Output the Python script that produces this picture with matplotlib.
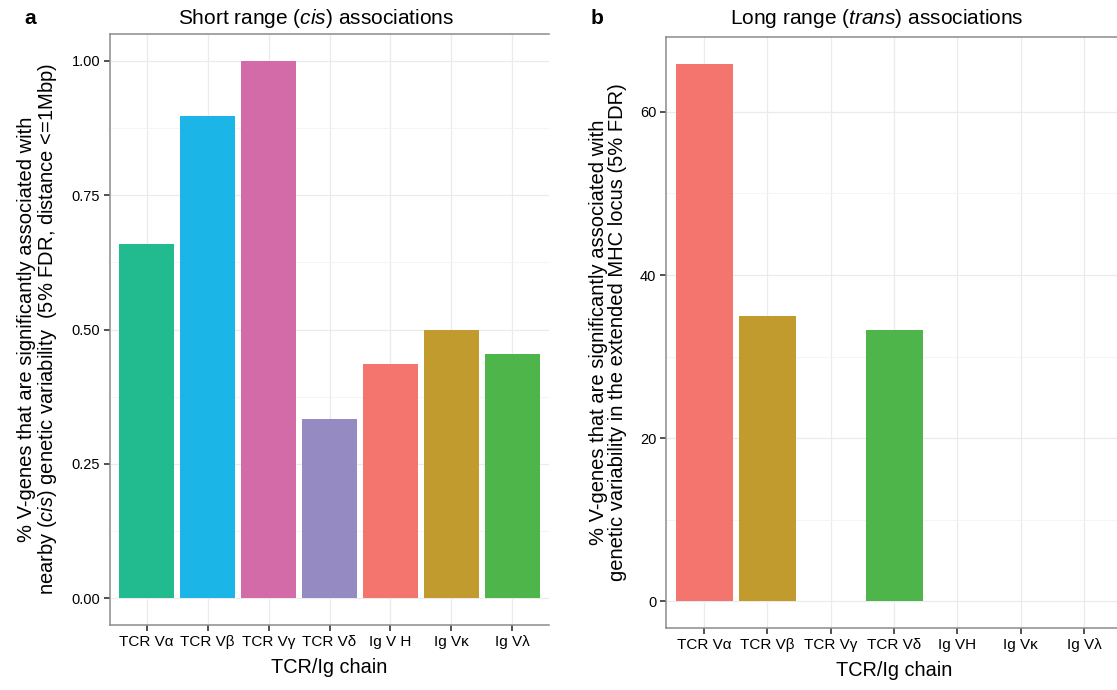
import numpy as np
import matplotlib
matplotlib.use('Agg')
import matplotlib.pyplot as plt
from matplotlib import rcParams

rcParams['font.family'] = ['Liberation Sans', 'DejaVu Sans']
rcParams['mathtext.fontset'] = 'custom'
rcParams['mathtext.rm'] = 'Liberation Sans'
rcParams['mathtext.it'] = 'Liberation Sans:italic'

# 数据
chains_a = ['TCR V\u03b1', 'TCR V\u03b2', 'TCR V\u03b3', 'TCR V\u03b4', 'Ig V H', 'Ig V\u03ba', 'Ig V\u03bb']
cis_values = [0.659, 0.897, 1.00, 0.333, 0.436, 0.50, 0.455]
cis_colors = ['#22BB8F', '#1CB5E8', '#D46BA9', '#968AC2', '#F3756D', '#C29B2E', '#4DB549']

chains_b = ['TCR V\u03b1', 'TCR V\u03b2', 'TCR V\u03b3', 'TCR V\u03b4', 'Ig VH', 'Ig V\u03ba', 'Ig V\u03bb']
trans_values = [65.9, 35.0, 0.0, 33.3, 0.0, 0.0, 0.0]
trans_colors = ['#F3756D', '#C29B2E', '#22BB8F', '#4DB549', '#1CB5E8', '#968AC2', '#D46BA9']

W, H = 1117, 690
fig = plt.figure(figsize=(W / 100, H / 100), dpi=100)


def px_axes(x0, y0, x1, y1):
    return fig.add_axes([x0 / W, 1 - y1 / H, (x1 - x0) / W, (y1 - y0) / H])


def style_axes(ax, labels, ymax, yticks, yticklabels, minor):
    ax.set_xlim(-0.6, len(labels) - 0.4)
    ax.set_ylim(-0.05 * ymax, 1.05 * ymax)
    ax.set_xticks(np.arange(len(labels)))
    ax.set_xticklabels(labels, fontsize=11)
    ax.set_yticks(yticks)
    ax.set_yticklabels(yticklabels, fontsize=10.5)
    ax.set_yticks(minor, minor=True)
    ax.tick_params(axis='y', which='minor', length=0)
    ax.tick_params(which='major', length=4, width=1.1, color='#222222', pad=3)
    ax.grid(True, which='major', color='#EBEBEB', linewidth=0.9)
    ax.grid(True, which='minor', axis='y', color='#F4F4F4', linewidth=0.7)
    ax.set_axisbelow(True)
    for s in ax.spines.values():
        s.set_color('#8C8C8C')
        s.set_linewidth(1.1)
    ax.set_xlabel('TCR/Ig chain', fontsize=14.3, labelpad=7)


# ==================== 图 a ====================
ax1 = px_axes(110, 34, 549, 625)
ax1.bar(np.arange(len(chains_a)), cis_values, width=0.9, color=cis_colors, zorder=2)
style_axes(ax1, chains_a, 1.0, [0, 0.25, 0.5, 0.75, 1.0],
           ['0.00', '0.25', '0.50', '0.75', '1.00'], [0.125, 0.375, 0.625, 0.875])
ax1.spines['right'].set_visible(False)
ax1.set_ylabel('% V-genes that are significantly associated with\n'
               'nearby ($\\mathit{cis}$) genetic variability  (5% FDR, distance <=1Mbp)',
               fontsize=14.5, labelpad=9, linespacing=1.0)

# ==================== 图 b ====================
ax2 = px_axes(666, 37, 1122, 628)
ax2.bar(np.arange(len(chains_b)), trans_values, width=0.9, color=trans_colors, zorder=2)
style_axes(ax2, chains_b, 65.9, [0, 20, 40, 60], ['0', '20', '40', '60'], [10, 30, 50])
ax2.set_ylabel('% V-genes that are significantly associated with\n'
               'genetic variability in the extended MHC locus (5% FDR)',
               fontsize=14.5, labelpad=9, linespacing=1.0)

# 标题与面板字母
fig.text(316 / W, 1 - 19 / H, 'Short range ($\\mathit{cis}$) associations',
         ha='center', va='center', fontsize=15)
fig.text(877 / W, 1 - 19 / H, 'Long range ($\\mathit{trans}$) associations',
         ha='center', va='center', fontsize=15)
fig.text(30 / W, 1 - 18 / H, 'a', ha='center', va='center', fontsize=15, fontweight='bold')
fig.text(597 / W, 1 - 18 / H, 'b', ha='center', va='center', fontsize=15, fontweight='bold')

fig.savefig('out.png', dpi=100)
